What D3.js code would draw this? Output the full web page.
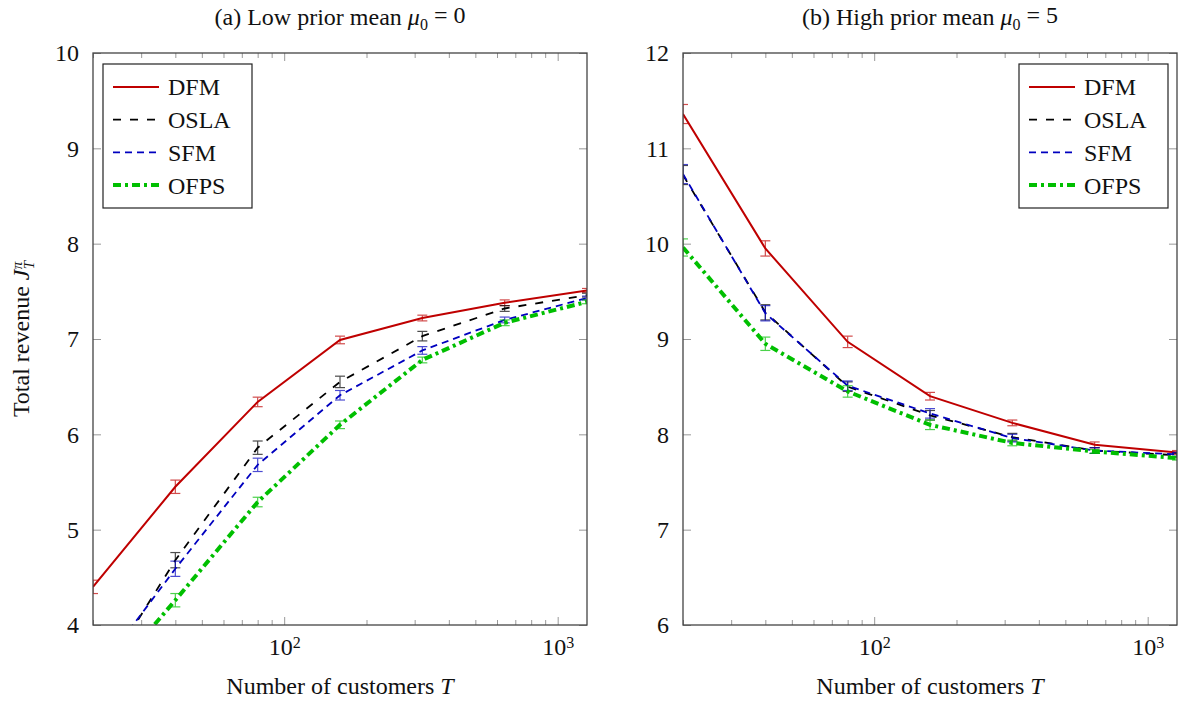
<!DOCTYPE html>
<html lang="en">
<head>
<meta charset="UTF-8">
<title>Total revenue vs number of customers</title>
<style>
  body { margin: 0; background: #fff; }
  svg text { font-family: "Liberation Serif", "DejaVu Serif", serif; fill: #111; }
  .tick text { font-size: 24px; }
  .frame { fill: none; stroke: #444; stroke-width: 1.3; }
</style>
</head>
<body>
<svg id="chart" width="1181" height="704"></svg>
<script src="https://d3js.org/d3.v7.min.js"></script>
<script>
// horizon lengths
var T = [20, 40, 80, 160, 320, 640, 1280];

// (a) low prior mean
var aDFM = [4.40, 5.45, 6.34, 6.99, 7.22, 7.38, 7.51];
var aDFMerr = [0.07, 0.07, 0.05, 0.04, 0.03, 0.03, 0.02];
var aOSLA = [3.30, 4.68, 5.86, 6.55, 7.03, 7.32, 7.46];
var aOSLAerr = [0.08, 0.08, 0.07, 0.06, 0.05, 0.03, 0.02];
var aSFM = [3.44, 4.59, 5.68, 6.41, 6.88, 7.20, 7.43];
var aSFMerr = [0.08, 0.08, 0.07, 0.05, 0.04, 0.03, 0.02];
var aOFPS = [3.25, 4.26, 5.29, 6.10, 6.78, 7.17, 7.39];
var aOFPSerr = [0.07, 0.07, 0.05, 0.04, 0.03, 0.03, 0.02];

// (b) high prior mean
var bDFM = [11.36, 9.95, 8.97, 8.40, 8.12, 7.89, 7.81];
var bDFMerr = [0.10, 0.08, 0.06, 0.04, 0.03, 0.03, 0.02];
var bOSLA = [10.72, 9.28, 8.50, 8.20, 7.97, 7.83, 7.78];
var bOSLAerr = [0.10, 0.08, 0.05, 0.05, 0.04, 0.03, 0.02];
var bSFM = [10.73, 9.27, 8.51, 8.22, 7.96, 7.83, 7.79];
var bSFMerr = [0.10, 0.08, 0.05, 0.05, 0.04, 0.03, 0.02];
var bOFPS = [9.96, 8.95, 8.45, 8.10, 7.91, 7.82, 7.75];
var bOFPSerr = [0.09, 0.07, 0.06, 0.05, 0.03, 0.02, 0.02];

var seriesNames = ["DFM", "OSLA", "SFM", "OFPS"];
var aYTicks = [4, 5, 6, 7, 8, 9, 10];
var bYTicks = [6, 7, 8, 9, 10, 11, 12];
var xMajor = [100, 1000];

var styles = {
  DFM:  { color: "#bf0000", dash: null,      width: 2 },
  OSLA: { color: "#000000", dash: "8,9",     width: 1.8 },
  SFM:  { color: "#0000bf", dash: "7,5",     width: 1.8 },
  OFPS: { color: "#00bf00", dash: "8,4,3,4", width: 4 }
};

var svg = d3.select("#chart");
var plotTop = 53, plotBottom = 625;

function greyTicks(s) {
  s.select(".domain").remove();
  s.selectAll("line").attr("stroke", "#999");
}

function panel(id, left, right, yDomain, yTicks, data, errs, title, legendX) {
  var g = svg.append("g");
  var x = d3.scaleLog().domain([20, 1280]).range([left, right]);
  var y = d3.scaleLinear().domain(yDomain).range([plotBottom, plotTop]);

  var minor = [];
  [10, 100, 1000].forEach(function (b) {
    for (var k = 2; k <= 9; k++) {
      var v = b * k;
      if (v >= 20 && v <= 1280) minor.push(v);
    }
  });

  // minor x ticks (inside)
  g.append("g").attr("transform", "translate(0," + plotBottom + ")")
    .call(d3.axisBottom(x).tickValues(minor).tickSize(-5).tickFormat(""))
    .call(greyTicks);
  g.append("g").attr("transform", "translate(0," + plotTop + ")")
    .call(d3.axisTop(x).tickValues(minor).tickSize(-5).tickFormat(""))
    .call(greyTicks);

  // major x ticks with 10^k labels
  var xb = g.append("g").attr("transform", "translate(0," + plotBottom + ")")
    .call(d3.axisBottom(x).tickValues(xMajor).tickSize(-8).tickPadding(13).tickFormat(""))
    .call(greyTicks);
  xb.selectAll(".tick text").each(function (d) {
    var t = d3.select(this).attr("fill", "#111").attr("dy", "0.71em");
    t.append("tspan").text("10");
    t.append("tspan").attr("dy", "-0.45em").style("font-size", "16px").text(Math.round(Math.log10(d)));
  });
  g.append("g").attr("transform", "translate(0," + plotTop + ")")
    .call(d3.axisTop(x).tickValues(xMajor).tickSize(-8).tickFormat(""))
    .call(greyTicks);

  // y ticks left and right
  var yl = g.append("g").attr("transform", "translate(" + left + ",0)")
    .call(d3.axisLeft(y).tickValues(yTicks).tickSize(-8).tickPadding(14).tickFormat(d3.format("d")))
    .call(greyTicks);
  yl.selectAll(".tick text").attr("fill", "#111");
  g.append("g").attr("transform", "translate(" + right + ",0)")
    .call(d3.axisRight(y).tickValues(yTicks).tickSize(-8).tickFormat(""))
    .call(greyTicks);

  // clip
  svg.append("clipPath").attr("id", "clip" + id)
    .append("rect").attr("x", left).attr("y", plotTop)
    .attr("width", right - left).attr("height", plotBottom - plotTop);
  var plot = g.append("g").attr("clip-path", "url(#clip" + id + ")");

  var line = d3.line().x(function (d) { return x(d[0]); }).y(function (d) { return y(d[1]); });

  seriesNames.forEach(function (name) {
    var st = styles[name];
    var pts = T.map(function (t, i) { return [t, data[name][i], errs[name][i]]; });

    var eb = plot.append("g").attr("stroke", st.color).attr("stroke-width", 1.2).attr("opacity", 0.7);
    pts.forEach(function (p) {
      var cx = x(p[0]), y0 = y(p[1] - p[2]), y1 = y(p[1] + p[2]);
      eb.append("line").attr("x1", cx).attr("x2", cx).attr("y1", y0).attr("y2", y1);
      eb.append("line").attr("x1", cx - 5).attr("x2", cx + 5).attr("y1", y0).attr("y2", y0);
      eb.append("line").attr("x1", cx - 5).attr("x2", cx + 5).attr("y1", y1).attr("y2", y1);
    });

    plot.append("path").datum(pts).attr("d", line)
      .attr("fill", "none").attr("stroke", st.color)
      .attr("stroke-width", st.width)
      .attr("stroke-dasharray", st.dash);
  });

  g.append("rect").attr("class", "frame")
    .attr("x", left).attr("y", plotTop).attr("width", right - left).attr("height", plotBottom - plotTop);

  // legend
  var lg = g.append("g").attr("transform", "translate(" + legendX + ",64)");
  lg.append("rect").attr("width", 149).attr("height", 144)
    .attr("fill", "#fff").attr("stroke", "#222").attr("stroke-width", 1.2);
  seriesNames.forEach(function (name, i) {
    var st = styles[name];
    var yy = 23 + i * 32.7;
    lg.append("line").attr("x1", 10).attr("x2", 56).attr("y1", yy).attr("y2", yy)
      .attr("stroke", st.color).attr("stroke-width", st.width)
      .attr("stroke-dasharray", st.dash);
    lg.append("text").attr("x", 65).attr("y", yy).attr("dy", "0.35em")
      .style("font-size", "24px").text(name);
  });

  // title
  var cx = (left + right) / 2;
  var tt = g.append("text").attr("x", cx).attr("y", 25).attr("text-anchor", "middle").style("font-size", "24px");
  title(tt);

  // x label
  var xl = g.append("text").attr("x", cx).attr("y", 694).attr("text-anchor", "middle").style("font-size", "24px");
  xl.append("tspan").text("Number of customers ");
  xl.append("tspan").style("font-style", "italic").text("T");

  return g;
}

panel("a", 93, 587, [4, 10], aYTicks,
  { DFM: aDFM, OSLA: aOSLA, SFM: aSFM, OFPS: aOFPS },
  { DFM: aDFMerr, OSLA: aOSLAerr, SFM: aSFMerr, OFPS: aOFPSerr },
  function (t) {
    t.append("tspan").text("(a) Low prior mean ");
    t.append("tspan").style("font-style", "italic").text("μ");
    t.append("tspan").attr("dy", "0.3em").style("font-size", "16px").text("0");
    t.append("tspan").attr("dy", "-0.3em").text(" = 0");
  }, 103);

panel("b", 683, 1177, [6, 12], bYTicks,
  { DFM: bDFM, OSLA: bOSLA, SFM: bSFM, OFPS: bOFPS },
  { DFM: bDFMerr, OSLA: bOSLAerr, SFM: bSFMerr, OFPS: bOFPSerr },
  function (t) {
    t.append("tspan").text("(b) High prior mean ");
    t.append("tspan").style("font-style", "italic").text("μ");
    t.append("tspan").attr("dy", "0.3em").style("font-size", "16px").text("0");
    t.append("tspan").attr("dy", "-0.3em").text(" = 5");
  }, 1019);

// y label
var ylab = svg.append("text").attr("transform", "translate(29,339) rotate(-90)")
  .attr("text-anchor", "middle").style("font-size", "24px");
ylab.append("tspan").text("Total revenue ");
ylab.append("tspan").style("font-style", "italic").text("J");
ylab.append("tspan").attr("dy", "-0.5em").attr("dx", "0.02em").style("font-size", "15px").style("font-style", "italic").text("π");
ylab.append("tspan").attr("dy", "0.85em").attr("dx", "-0.5em").style("font-size", "15px").style("font-style", "italic").text("T");
</script>
</body>
</html>
